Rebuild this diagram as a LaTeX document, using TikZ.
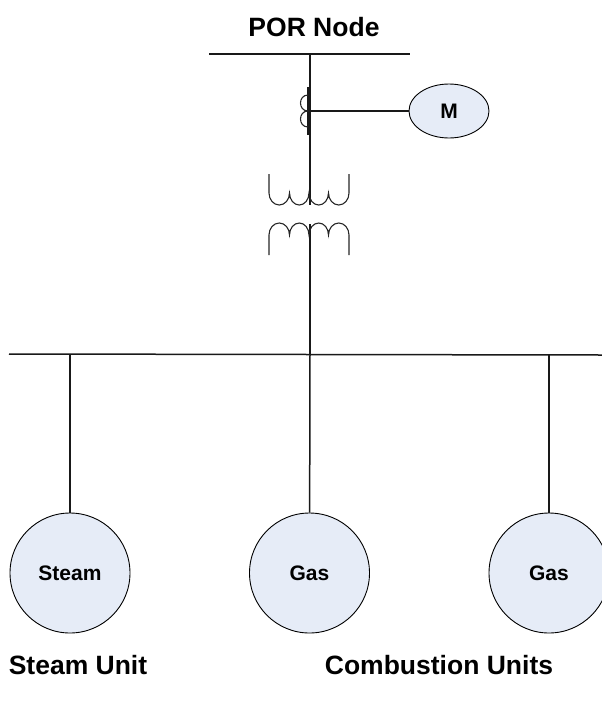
\documentclass[tikz,border=0pt]{standalone}
\usepackage{fontspec}
\setmainfont{Liberation Sans}
\usetikzlibrary{shapes.geometric}
\definecolor{gfill}{HTML}{E6ECF7}
\tikzset{
  every picture/.style={x=1pt,y=-1pt},
  wire/.style={line width=1.5pt,color=black!90},
  coil/.style={line width=1.1pt,color=black!85},
  unit/.style={ellipse,draw=black,line width=0.9pt,fill=gfill,inner sep=0pt,minimum width=120pt,minimum height=120pt,font=\bfseries\fontsize{21}{24}\selectfont},
  caption/.style={font=\bfseries\fontsize{26.5}{30}\selectfont,inner sep=0pt}
}
\begin{document}
\begin{tikzpicture}
\clip (0,0) rectangle (602,705);
\useasboundingbox (0,0) rectangle (602,705);
\node[caption] (por) at (314,27) {POR Node};
\node[caption] (lsteam) at (78,665) {Steam Unit};
\node[caption] (lcomb) at (439,665) {Combustion Units};
\coordinate (pl) at (209,54);
\coordinate (pr) at (410,54);
\coordinate (pm) at (310,54);
\coordinate (bl) at (9,354);
\coordinate (br) at (602,355);
\coordinate (bm) at (310,354.5);
\coordinate (b1) at (70,354);
\coordinate (b3) at (549,355);
\coordinate (tu) at (310,205);
\coordinate (tl) at (310,224);
\coordinate (ct) at (310,111);
\node[unit,minimum width=80pt,minimum height=54pt] (m) at (449,111) {M};
\node[unit] (g1) at (70,573) {Steam};
\node[unit] (g2) at (309.5,573) {Gas};
\node[unit] (g3) at (549,573) {Gas};
\draw[wire] (pl) -- (pr);
\draw[wire] (bl) -- (bm) -- (br);
\draw[wire] (pm) -- (tu);
\draw[wire] (tl) -- (bm);
\draw[wire] (ct) -- (m);
\draw[wire] (b1) -- (g1);
\draw[wire] (bm) -- (g2);
\draw[wire] (b3) -- (g3);
% current transformer
\draw[wire] (308,87) -- (308,135);
\draw[coil] (308,95) .. controls (298,95) and (298,111) .. (308,111)
            .. controls (298,111) and (298,127) .. (308,127);
% transformer windings
\draw[coil] (269,174) -- (269,193) arc[start angle=180,end angle=0,x radius=10.25,y radius=12]
  arc[start angle=180,end angle=0,x radius=9.75,y radius=12]
  arc[start angle=180,end angle=0,x radius=9.75,y radius=12]
  arc[start angle=180,end angle=0,x radius=10.25,y radius=12] -- (349,174);
\draw[coil] (269,255) -- (269,235) arc[start angle=180,end angle=0,x radius=10.25,y radius=-12]
  arc[start angle=180,end angle=0,x radius=9.75,y radius=-12]
  arc[start angle=180,end angle=0,x radius=9.75,y radius=-12]
  arc[start angle=180,end angle=0,x radius=10.25,y radius=-12] -- (349,255);
\end{tikzpicture}
\end{document}
